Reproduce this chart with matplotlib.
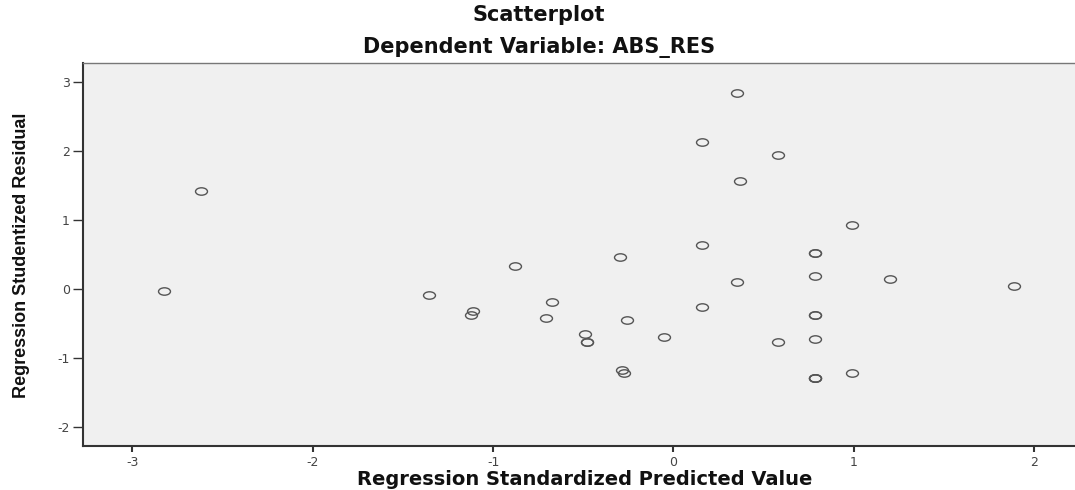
import matplotlib
matplotlib.use('Agg')
import matplotlib.pyplot as plt
from matplotlib.path import Path
from matplotlib.transforms import Affine2D

# valores (previsto padronizado x residuo studentizado)
pred = [-2.617, -2.826, -1.357, -1.114, -1.125, -0.880, -0.673, -0.709,
        -0.493, -0.482, -0.482, -0.296, -0.258, -0.288, -0.277, -0.053,
        0.156, 0.156, 0.156, 0.355, 0.355, 0.370, 0.577, 0.577,
        0.784, 0.784, 0.784, 0.784, 0.784, 0.784, 0.784, 0.784, 0.784,
        0.991, 0.991, 1.199, 1.890]
resid = [1.408, -0.033, -0.087, -0.324, -0.377, 0.325, -0.197, -0.425,
         -0.653, -0.774, -0.774, 0.464, -0.459, -1.180, -1.224, -0.701,
         2.125, 0.634, -0.266, 2.840, 0.102, 1.559, 1.940, -0.769,
         0.523, 0.523, 0.180, -0.386, -0.386, -0.726, -1.292, -1.292, -1.292,
         0.925, -1.219, 0.145, 0.039]

xticks = [-3, -2, -1, 0, 1, 2]
yticks = [-2, -1, 0, 1, 2, 3]

W, H = 1075, 490
fig = plt.figure(figsize=(W / 100, H / 100), dpi=100)
fig.patch.set_facecolor('white')

# area do grafico em pixels: esquerda 83, topo 63, base 446, direita ~1087 (cortada)
ax = fig.add_axes([83 / W, 1 - 446 / H, (1087 - 83) / W, (446 - 63) / H])
ax.set_facecolor('#f0f0f0')

# marcador eliptico (a imagem original esta esticada na horizontal)
elipse = Path.unit_circle().transformed(Affine2D().scale(1.0, 0.62))
ax.plot(pred, resid, linestyle='none', marker=elipse, markersize=8.6,
        markerfacecolor='none', markeredgecolor='#555555', markeredgewidth=1.0)

ax.set_xlim(-3.274, 2.293)
ax.set_ylim(-2.28, 3.27)
ax.set_xticks(xticks)
ax.set_yticks(yticks)
ax.set_xticklabels([str(t) for t in xticks])
ax.set_yticklabels([str(t) for t in yticks])

for s in ['left', 'bottom']:
    ax.spines[s].set_color('#333333')
    ax.spines[s].set_linewidth(1.5)
ax.spines['top'].set_color('#777777')
ax.spines['top'].set_linewidth(1.0)
ax.spines['right'].set_visible(False)

ax.tick_params(axis='x', length=4.3, width=1.5, color='#333333',
               labelsize=9, labelcolor='#444444', pad=3)
ax.tick_params(axis='y', length=7.5, width=1.0, color='#333333',
               labelsize=9, labelcolor='#444444', pad=2)

fig.text(539 / W, 1 - 15 / H, 'Scatterplot', ha='center', va='center',
         fontsize=15, fontweight='bold', family='DejaVu Sans', color='#111111')
fig.text(539 / W, 1 - 48 / H, 'Dependent Variable: ABS_RES', ha='center',
         va='center', fontsize=15, fontweight='bold', family='DejaVu Sans',
         color='#111111')
fig.text(585 / W, 1 - 479 / H, 'Regression Standardized Predicted Value',
         ha='center', va='center', fontsize=14, fontweight='bold',
         family='DejaVu Sans', color='#111111')
fig.text(22 / W, 1 - 255 / H, 'Regression Studentized Residual', ha='center',
         va='center', rotation=90, fontsize=13, fontweight='bold',
         family=['Liberation Sans Narrow', 'Liberation Sans'], color='#111111')

fig.savefig('out.png', dpi=100)
